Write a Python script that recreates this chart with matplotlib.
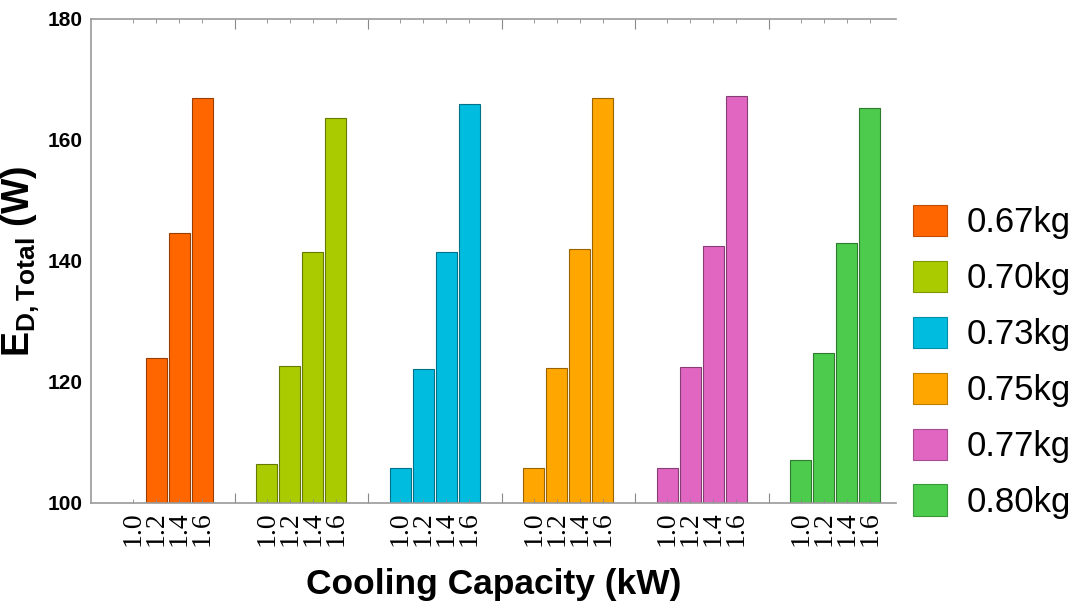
import numpy as np
import matplotlib
matplotlib.use("Agg")
import matplotlib.pyplot as plt
from matplotlib.ticker import FixedLocator, FixedFormatter, NullFormatter
from matplotlib.patches import Patch

plt.rcParams['font.family'] = ['Liberation Sans', 'DejaVu Sans']
plt.rcParams['mathtext.fontset'] = 'custom'
plt.rcParams['mathtext.rm'] = 'Liberation Sans'
plt.rcParams['mathtext.bf'] = 'Liberation Sans:bold'

# refrigerant charge series and cooling capacity steps
charges = ["0.67kg", "0.70kg", "0.73kg", "0.75kg", "0.77kg", "0.80kg"]
capacities = ["1.0", "1.2", "1.4", "1.6"]
colors = ["#ff6600", "#a9cb00", "#00bde0", "#ffa600", "#e066c2", "#4ccb4c"]

# total exergy destruction (W); 1.0 kW value for 0.67kg lies below the axis
ed_067 = [np.nan, 124.0, 144.6, 166.9]
ed_070 = [106.4, 122.6, 141.5, 163.6]
ed_073 = [105.8, 122.1, 141.4, 165.9]
ed_075 = [105.8, 122.3, 142.0, 166.9]
ed_077 = [105.8, 122.5, 142.4, 167.3]
ed_080 = [107.1, 124.8, 142.9, 165.3]
series = [ed_067, ed_070, ed_073, ed_075, ed_077, ed_080]


def darker(c, f=0.6):
    r, g, b = matplotlib.colors.to_rgb(c)
    return (r * f, g * f, b * f)


fig = plt.figure(figsize=(10.75, 6.03), dpi=100)
ax = fig.add_axes([0.0847, 0.166, 0.7488, 0.8025])

pitch = 0.172
width = 0.158
offsets = (np.arange(len(capacities)) - 1.5) * pitch

bar_x = []
bar_lbl = []
for i, (vals, col) in enumerate(zip(series, colors)):
    xs = i + offsets
    ax.bar(xs, vals, width=width, color=col, edgecolor=darker(col), linewidth=0.8)
    bar_x.extend(xs)
    bar_lbl.extend(capacities)

ax.set_ylim(100, 180)
ax.set_xlim(-0.575, 5.455)
ax.set_yticks([100, 120, 140, 160, 180])

# group separators as major ticks, bar positions as labelled minor ticks
ax.xaxis.set_major_locator(FixedLocator(np.arange(0.5, 5, 1.0)))
ax.xaxis.set_major_formatter(NullFormatter())
ax.xaxis.set_minor_locator(FixedLocator(bar_x))
ax.xaxis.set_minor_formatter(FixedFormatter(bar_lbl))

ax.tick_params(axis='x', which='major', direction='in', length=7, color='#888888', top=True)
ax.tick_params(axis='x', which='minor', direction='in', length=3, color='#888888', top=True,
               pad=6, labelrotation=90, labelsize=20, labelfontfamily='Liberation Serif')
ax.tick_params(axis='y', length=0, pad=6, labelsize=15)

for side in ['left', 'bottom', 'top']:
    ax.spines[side].set_color('#9a9a9a')
    ax.spines[side].set_linewidth(1.2)
ax.spines['right'].set_visible(False)

ax.set_ylabel(r'$\mathbf{E_{D,Total}}$ (W)', fontsize=27, fontweight='bold', labelpad=4)
ax.set_xlabel('Cooling Capacity (kW)', fontsize=25.5, fontweight='bold', labelpad=16)

handles = [Patch(facecolor=c, edgecolor=darker(c, 0.75), linewidth=0.8) for c in colors]
fig.legend(handles, charges, loc='center left', bbox_to_anchor=(0.849, 0.40),
           frameon=False, fontsize=25, handlelength=1.0, handleheight=1.0,
           handletextpad=0.55, labelspacing=0.62, borderpad=0, borderaxespad=0)

fig.canvas.draw()
for t in ax.get_yticklabels():
    t.set_fontweight('bold')

fig.savefig("out.png", dpi=100)
